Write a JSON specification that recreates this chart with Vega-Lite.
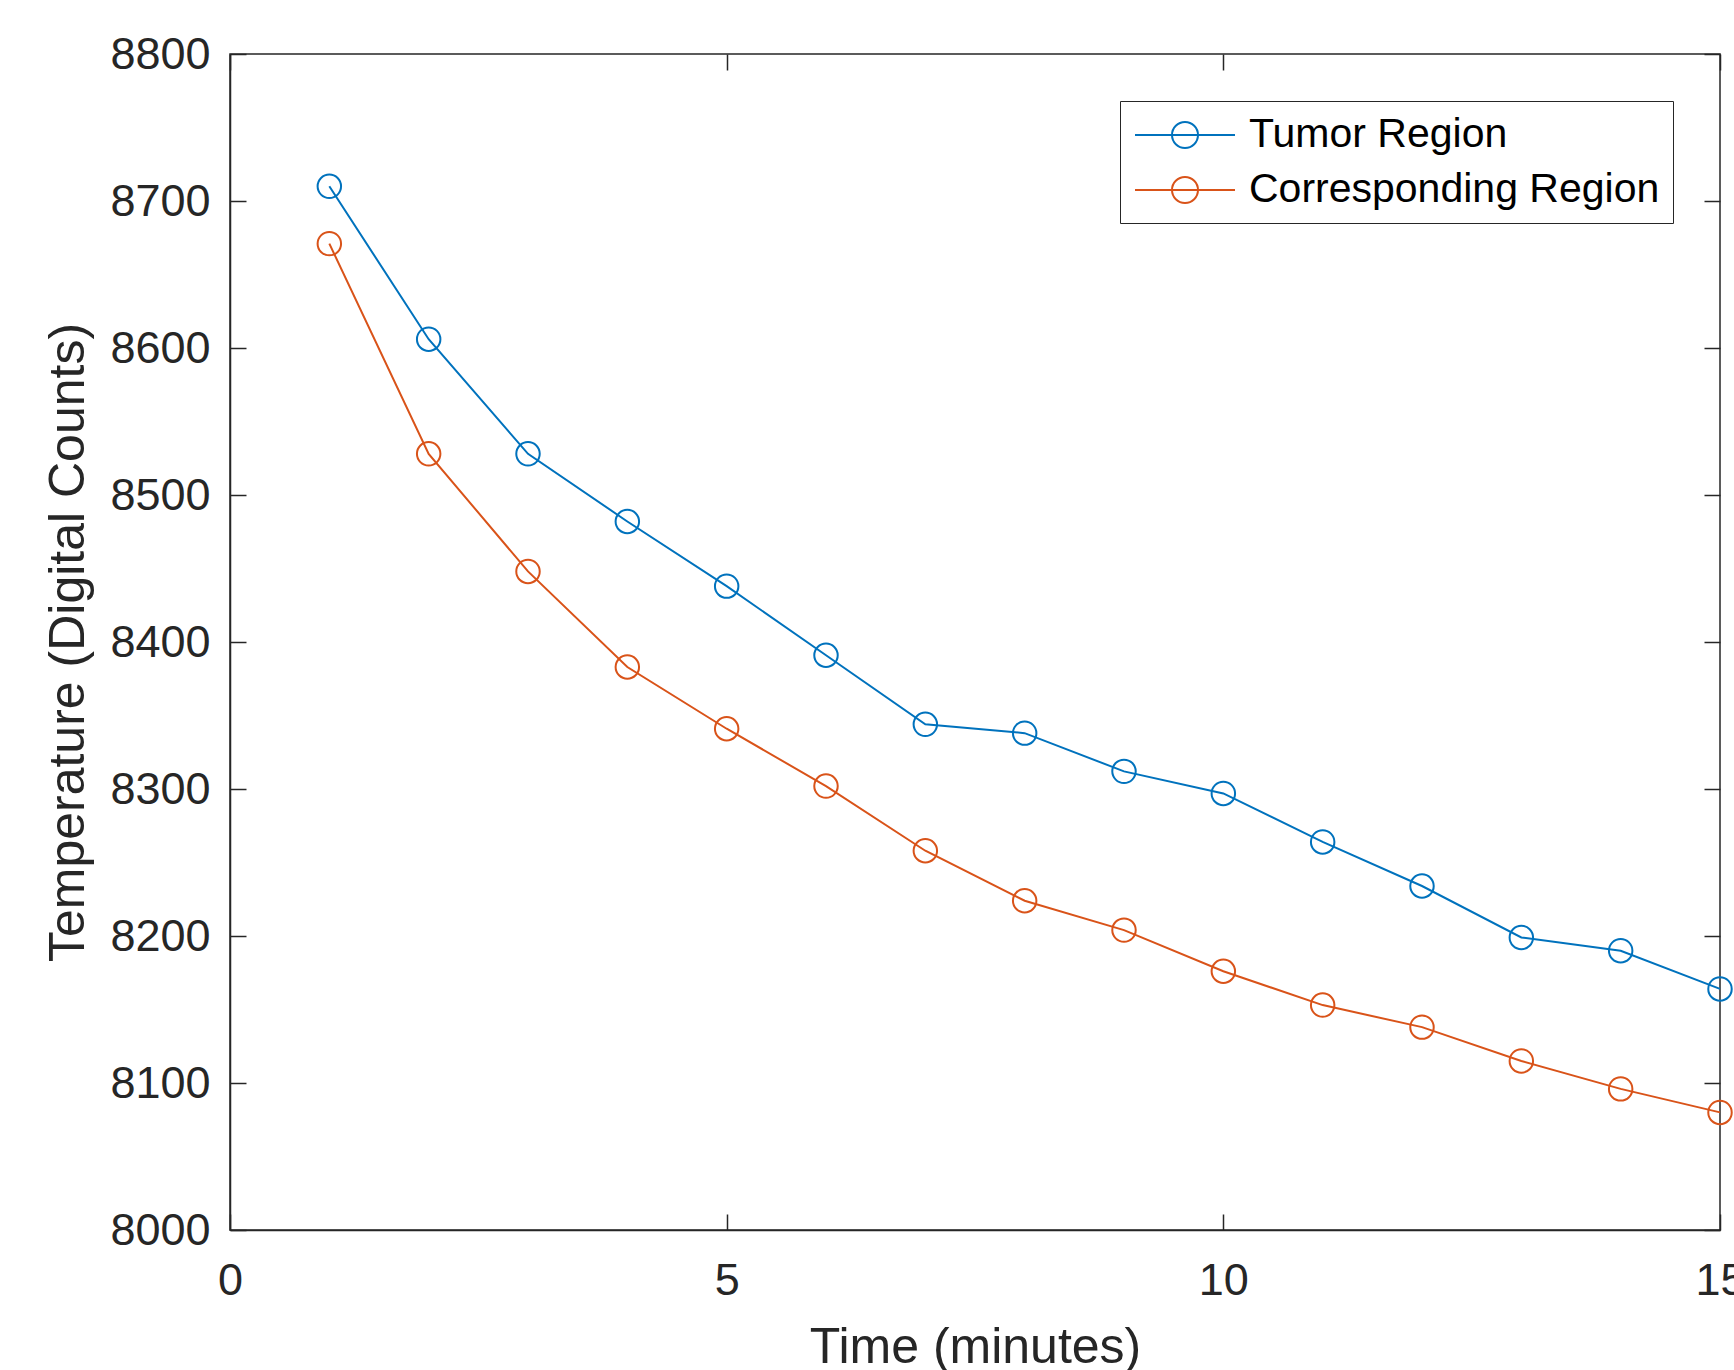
{
  "$schema": "https://vega.github.io/schema/vega-lite/v6.json",
  "width": 1490,
  "height": 1176,
  "autosize": "none",
  "padding": {"left": 230, "top": 54, "right": 14, "bottom": 140},
  "background": "white",
  "config": {
    "font": "Liberation Sans",
    "view": {"stroke": "#262626", "strokeWidth": 1.5},
    "axis": {
      "grid": false,
      "domainColor": "#262626",
      "domainWidth": 1.5,
      "tickColor": "#262626",
      "tickWidth": 1.5,
      "tickSize": -16,
      "labelColor": "#262626",
      "labelFontSize": 45,
      "labelFont": "Liberation Sans",
      "titleColor": "#262626",
      "titleFontSize": 50,
      "titleFont": "Liberation Sans",
      "titleFontWeight": "normal"
    },
    "legend": {
      "orient": "none",
      "legendX": 890,
      "legendY": 47,
      "strokeColor": "#262626",
      "fillColor": "white",
      "padding": 13,
      "symbolType": "M-2.5,0L2.5,0M0.65,0A0.65,0.65,0,1,1,-0.65,0A0.65,0.65,0,1,1,0.65,0",
      "symbolSize": 1600,
      "symbolOffset": 31,
      "symbolStrokeWidth": 2,
      "symbolFillColor": "transparent",
      "labelFontSize": 41,
      "labelFont": "Liberation Sans",
      "labelColor": "black",
      "labelOffset": 43,
      "rowPadding": 14,
      "labelLimit": 1000
    }
  },
  "data": {"values": [
    {"t": 1, "v": 8710, "s": "Tumor Region"},
    {"t": 2, "v": 8606, "s": "Tumor Region"},
    {"t": 3, "v": 8528, "s": "Tumor Region"},
    {"t": 4, "v": 8482, "s": "Tumor Region"},
    {"t": 5, "v": 8438, "s": "Tumor Region"},
    {"t": 6, "v": 8391, "s": "Tumor Region"},
    {"t": 7, "v": 8344, "s": "Tumor Region"},
    {"t": 8, "v": 8338, "s": "Tumor Region"},
    {"t": 9, "v": 8312, "s": "Tumor Region"},
    {"t": 10, "v": 8297, "s": "Tumor Region"},
    {"t": 11, "v": 8264, "s": "Tumor Region"},
    {"t": 12, "v": 8234, "s": "Tumor Region"},
    {"t": 13, "v": 8199, "s": "Tumor Region"},
    {"t": 14, "v": 8190, "s": "Tumor Region"},
    {"t": 15, "v": 8164, "s": "Tumor Region"},
    {"t": 1, "v": 8671, "s": "Corresponding Region"},
    {"t": 2, "v": 8528, "s": "Corresponding Region"},
    {"t": 3, "v": 8448, "s": "Corresponding Region"},
    {"t": 4, "v": 8383, "s": "Corresponding Region"},
    {"t": 5, "v": 8341, "s": "Corresponding Region"},
    {"t": 6, "v": 8302, "s": "Corresponding Region"},
    {"t": 7, "v": 8258, "s": "Corresponding Region"},
    {"t": 8, "v": 8224, "s": "Corresponding Region"},
    {"t": 9, "v": 8204, "s": "Corresponding Region"},
    {"t": 10, "v": 8176, "s": "Corresponding Region"},
    {"t": 11, "v": 8153, "s": "Corresponding Region"},
    {"t": 12, "v": 8138, "s": "Corresponding Region"},
    {"t": 13, "v": 8115, "s": "Corresponding Region"},
    {"t": 14, "v": 8096, "s": "Corresponding Region"},
    {"t": 15, "v": 8080, "s": "Corresponding Region"}
  ]},
  "layer": [
    {
      "mark": {"type": "line", "strokeWidth": 2, "clip": false},
      "encoding": {
        "x": {"field": "t", "type": "quantitative", "scale": {"domain": [0, 15], "nice": false, "zero": false},
              "axis": {"orient": "bottom", "values": [0, 5, 10, 15], "title": "Time (minutes)", "labelPadding": 44, "titleY": 132, "titleBaseline": "alphabetic", "labelFlush": false}},
        "y": {"field": "v", "type": "quantitative", "scale": {"domain": [8000, 8800], "nice": false, "zero": false},
              "axis": {"orient": "left", "values": [8000, 8100, 8200, 8300, 8400, 8500, 8600, 8700, 8800], "format": "d", "title": "Temperature (Digital Counts)", "labelPadding": 36, "titleX": -147, "titleBaseline": "alphabetic", "labelFlush": false}},
        "color": {"field": "s", "type": "nominal",
                  "scale": {"domain": ["Tumor Region", "Corresponding Region"], "range": ["#0072BD", "#D95319"]},
                  "legend": {"title": null}}
      }
    },
    {
      "mark": {"type": "point", "filled": false, "size": 550, "strokeWidth": 2, "clip": false, "opacity": 1},
      "encoding": {
        "x": {"field": "t", "type": "quantitative", "axis": null},
        "y": {"field": "v", "type": "quantitative", "axis": null},
        "color": {"field": "s", "type": "nominal", "legend": null}
      }
    },
    {
      "mark": {"type": "rule", "opacity": 0},
      "encoding": {
        "x": {"field": "t", "type": "quantitative",
              "axis": {"orient": "top", "values": [0, 5, 10, 15], "labels": false, "title": null, "domain": false}},
        "y": {"field": "v", "type": "quantitative",
              "axis": {"orient": "right", "values": [8000, 8100, 8200, 8300, 8400, 8500, 8600, 8700, 8800], "labels": false, "title": null, "domain": false}}
      }
    }
  ],
  "resolve": {"axis": {"x": "independent", "y": "independent"}}
}
